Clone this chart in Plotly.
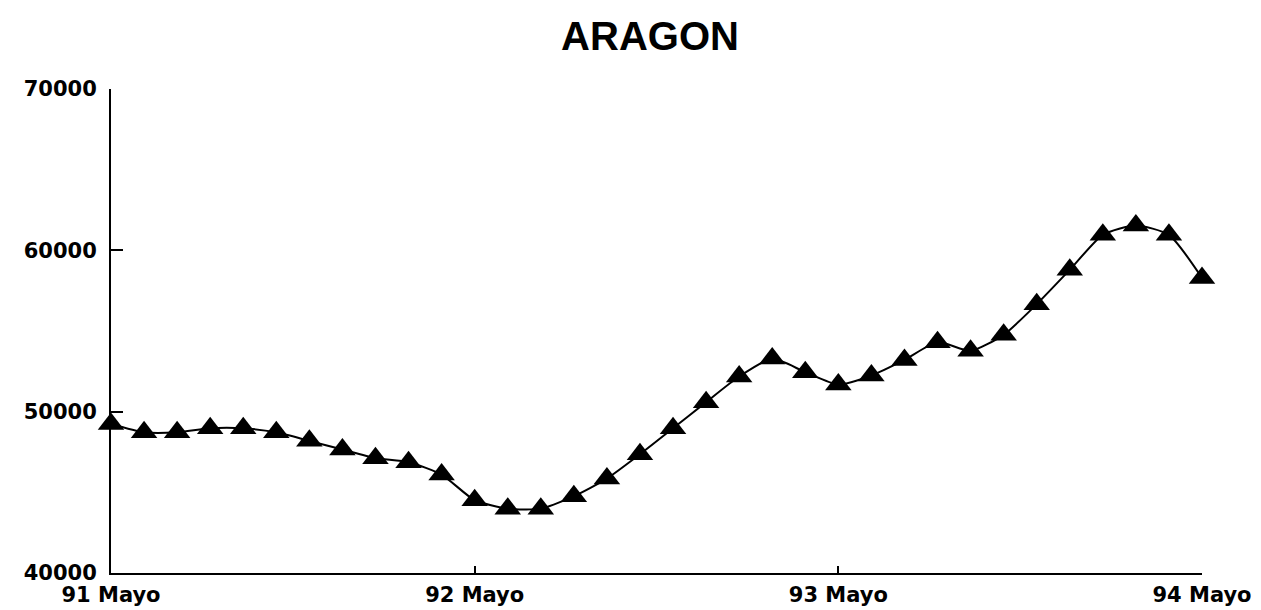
import plotly.graph_objects as go

period_index = list(range(34))
values = [49240, 48720, 48720, 48970, 48970, 48720, 48190, 47650, 47120, 46870,
          46100, 44510, 43990, 43990, 44760, 45850, 47360, 48970, 50590, 52180,
          53290, 52450, 51680, 52240, 53210, 54310, 53770, 54760, 56660, 58790,
          60960, 61540, 60960, 58290]
x_tick_pos = [0, 11, 22, 33]
x_tick_text = ["91 Mayo", "92 Mayo", "93 Mayo", "94 Mayo"]
y_tick_vals = [40000, 50000, 60000, 70000]
y_tick_text = ["40000", "50000", "60000", "70000"]

# the page body adds an 8px offset; figure is sized to the remaining viewport
W, H = 1253, 602

fig = go.Figure()
fig.add_trace(go.Scatter(
    x=period_index, y=values, mode="lines+markers",
    line=dict(color="black", width=2, shape="spline", smoothing=0.6),
    marker=dict(symbol="triangle-up", size=23, color="black"),
    cliponaxis=False, showlegend=False,
))

fig.update_layout(
    width=W, height=H,
    margin=dict(l=103, r=59, t=81, b=37, autoexpand=False),
    paper_bgcolor="white", plot_bgcolor="white",
    title=dict(text="ARAGON", x=642 / W, xref="container", y=1 - 28 / H, yref="container",
               xanchor="center", yanchor="middle",
               font=dict(family="Liberation Sans", size=40, color="black", weight="bold")),
    xaxis=dict(range=[0, 33], tickmode="array", tickvals=x_tick_pos, ticktext=x_tick_text,
               automargin=False,
               showgrid=False, zeroline=False, showline=True, linecolor="black", linewidth=2,
               ticks="inside", ticklen=7, tickwidth=2, tickcolor="black",
               ticklabelstandoff=2,
               tickfont=dict(family="DejaVu Sans", size=21, color="black", weight="bold")),
    yaxis=dict(range=[40000, 70000], tickmode="array", tickvals=y_tick_vals, ticktext=y_tick_text,
               automargin=False,
               showgrid=False, zeroline=False, showline=True, linecolor="black", linewidth=2,
               ticks="inside", ticklen=12, tickwidth=2, tickcolor="black",
               ticklabelstandoff=8,
               tickfont=dict(family="DejaVu Sans", size=21, color="black", weight="bold")),
)

fig.write_html("out.html")
